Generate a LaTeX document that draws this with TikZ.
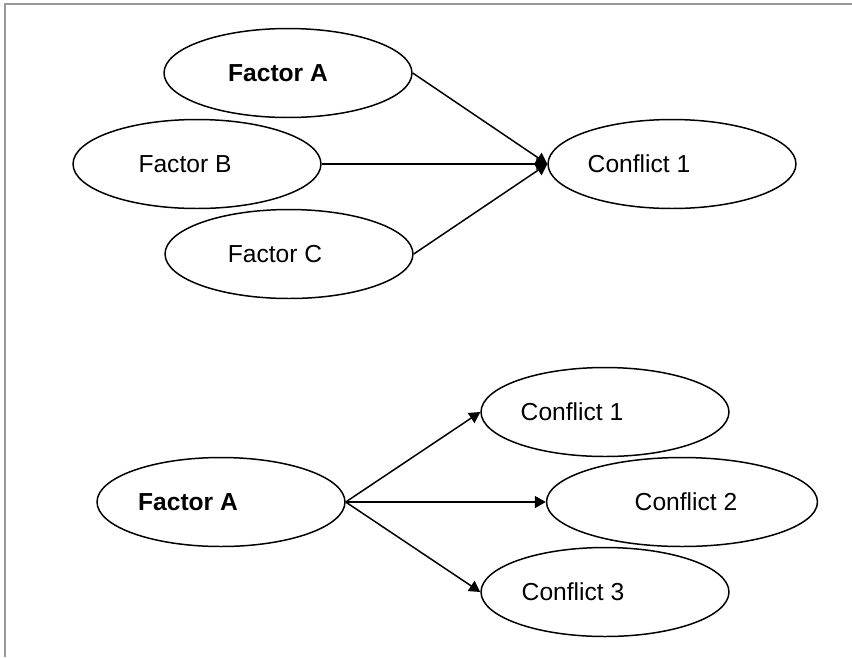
\documentclass[tikz,border=0pt]{standalone}
\usepackage{fontspec}
\setmainfont{Liberation Sans}
\usepackage{tikz}
\usetikzlibrary{positioning, arrows.meta, shapes}
\definecolor{marco}{RGB}{153, 153, 153}
\tikzset{
    oval/.style={draw, ellipse, line width=0.85pt, inner sep=0pt, minimum width=4.96cm, minimum height=1.78cm, font=\fontsize{14}{17}\selectfont},
    wide/.style={oval, minimum width=5.42cm},
    conn/.style={-{Triangle[length=0.22cm, width=0.24cm]}, line width=0.85pt},
}

\begin{document}
\begin{tikzpicture}[x=0.02cm, y=-0.02cm]
        \useasboundingbox (0,0) rectangle (852,657);
        \draw[marco, line width=0.03cm] (5,657) -- (5,4) -- (852,4);

        % factors -> one conflict
        \node [oval] (fa) at (288,73) {\hspace{-0.4cm}\textbf{Factor A}\hspace{0.4cm}};
        \node [oval] (fb) at (197,164) {\hspace{-0.48cm}Factor B\hspace{0.48cm}};
        \node [oval] (fc) at (289,254) {\hspace{-0.56cm}Factor C\hspace{0.56cm}};
        \node [oval] (c1) at (672,164) {\hspace{-1.32cm}Conflict 1\hspace{1.32cm}};

        \draw[conn] (fa.east) -- (c1.west);
        \draw[conn] (fb.east) -- (c1.west);
        \draw[conn] (fc.east) -- (c1.west);

        % one factor -> conflicts
        \node [oval] (ga) at (221,502) {\hspace{-1.32cm}\textbf{Factor A}\hspace{1.32cm}};
        \node [oval] (d1) at (605,412) {\hspace{-1.32cm}Conflict 1\hspace{1.32cm}};
        \node [wide] (d2) at (682,502) {\hspace{0.16cm}Conflict 2\hspace{-0.16cm}};
        \node [oval] (d3) at (605,592) {\hspace{-1.28cm}Conflict 3\hspace{1.28cm}};

        \draw[conn] (ga.east) -- (d1.west);
        \draw[conn] (ga.east) -- (d2.west);
        \draw[conn] (ga.east) -- (d3.west);
\end{tikzpicture}
\end{document}
